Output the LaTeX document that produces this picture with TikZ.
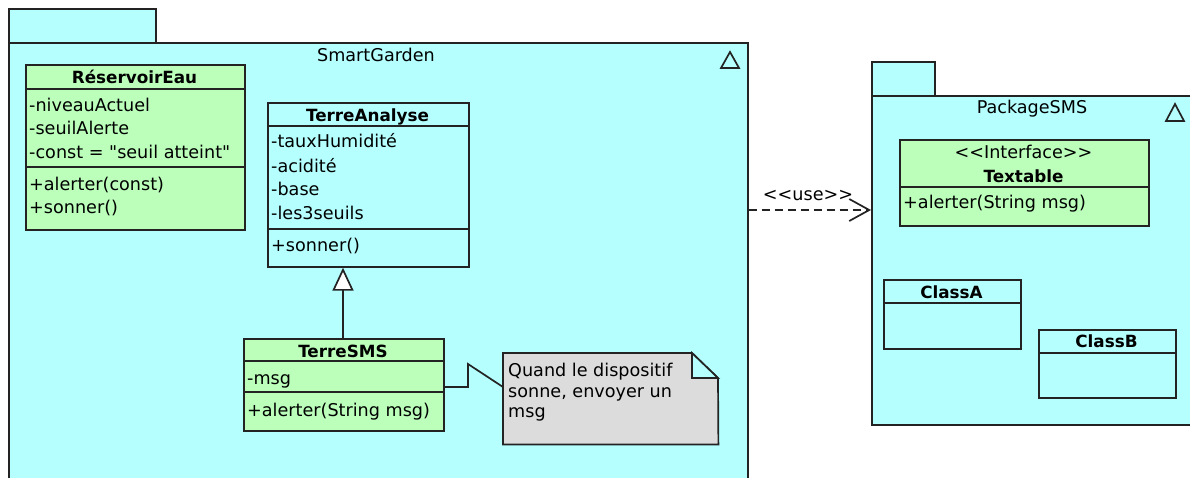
\documentclass[tikz,border=0pt]{standalone}
\usepackage{fontspec}
\setmainfont{DejaVu Sans}[Ligatures=TeXOff]
\usetikzlibrary{arrows.meta}
\definecolor{pkgcyan}{RGB}{181,255,255}
\definecolor{clsgreen}{RGB}{187,255,187}
\definecolor{notegray}{RGB}{220,220,220}
\definecolor{ink}{RGB}{35,35,35}
\begin{document}
\begin{tikzpicture}[x=1pt,y=-1pt,
  every node/.style={font=\fontsize{17.6}{20}\selectfont, text=black},
  shapebox/.style={draw=ink, line width=1.7pt, rectangle, inner sep=0pt, anchor=north west},
  pkg/.style={shapebox, fill=pkgcyan},
  cls/.style={shapebox, fill=clsgreen},
  plaincls/.style={shapebox, fill=pkgcyan},
  sep/.style={draw=ink, line width=1.7pt},
  txt/.style={anchor=base west, inner sep=0pt},
  ctxt/.style={anchor=base, inner sep=0pt},
  hdr/.style={anchor=base, inner sep=0pt, font=\fontsize{16.8}{20}\selectfont\bfseries},
  pkgicon/.style={draw=ink, line width=1.7pt},
  dep/.style={draw=ink, line width=1.7pt, dash pattern=on 8pt off 5pt, -{Straight Barb[length=20pt, width=22pt, line width=1.7pt]}},
  inh/.style={draw=ink, line width=1.7pt, -{Triangle[open, fill=white, length=23pt, width=21pt, line width=1.7pt]}},
  notelink/.style={draw=ink, line width=1.7pt}
]
\useasboundingbox (0,0) rectangle (1190,477);

% ---------- SmartGarden package ----------
\node[pkg, minimum width=147pt, minimum height=34pt] (sgtab) at (8,8) {};
\node[pkg, minimum width=739pt, minimum height=450pt] (sg) at (8,42) {};
\node[ctxt] (sglabel) at (376,61) {SmartGarden};
\draw[pkgicon] (730,52) -- (739,68) -- (721,68) -- cycle;

% ---------- PackageSMS package ----------
\node[pkg, minimum width=63pt, minimum height=34pt] (pstab) at (871,61) {};
\node[pkg, minimum width=340pt, minimum height=329pt] (ps) at (871,95) {};
\node[ctxt] (pslabel) at (1032,113) {PackageSMS};
\draw[pkgicon] (1175,104) -- (1184,121) -- (1166,121) -- cycle;

% ---------- RéservoirEau ----------
\node[cls, minimum width=219pt, minimum height=165pt] (res) at (25,64) {};
\draw[sep] (res.west |- 0,89) -- (res.east |- 0,89);
\draw[sep] (res.west |- 0,167) -- (res.east |- 0,167);
\node[hdr] (resh) at (134.5,83) {RéservoirEau};
\node[txt] (res1) at (29,111) {-niveauActuel};
\node[txt] (res2) at (29,134) {-seuilAlerte};
\node[txt] (res3) at (29,158) {-const = "seuil atteint"};
\node[txt] (res4) at (29,190) {+alerter(const)};
\node[txt] (res5) at (29,213) {+sonner()};

% ---------- TerreAnalyse ----------
\node[plaincls, minimum width=201pt, minimum height=164pt] (ta) at (267,102) {};
\draw[sep] (ta.west |- 0,126) -- (ta.east |- 0,126);
\draw[sep] (ta.west |- 0,229) -- (ta.east |- 0,229);
\node[hdr] (tah) at (367.5,121) {TerreAnalyse};
\node[txt] (ta1) at (271,147) {-tauxHumidité};
\node[txt] (ta2) at (271,172) {-acidité};
\node[txt] (ta3) at (271,195) {-base};
\node[txt] (ta4) at (271,219) {-les3seuils};
\node[txt] (ta5) at (271,251) {+sonner()};

% ---------- TerreSMS ----------
\node[cls, minimum width=200pt, minimum height=92pt] (tsms) at (243,338) {};
\draw[sep] (tsms.west |- 0,361) -- (tsms.east |- 0,361);
\draw[sep] (tsms.west |- 0,392) -- (tsms.east |- 0,392);
\node[hdr] (tsmsh) at (343,357) {TerreSMS};
\node[txt] (tsms1) at (247,384) {-msg};
\node[txt] (tsms2) at (247,416) {+alerter(String msg)};

% inheritance
\draw[inh] (tsms.north -| 343,0) -- (ta.south -| 343,0);

% ---------- Note ----------
\node[inner sep=0pt, anchor=north west, minimum width=215pt, minimum height=91pt] (note) at (503,353) {};
\draw[draw=ink, line width=1.7pt, fill=notegray]
  (note.north west) -- (692,353) -- (718,378) -- (note.south east) -- (note.south west) -- cycle;
\draw[draw=ink, line width=1.7pt, fill=pkgcyan] (692,353) -- (692,378) -- (718,378) -- cycle;
\node[txt] (n1) at (508,376) {Quand le dispositif};
\node[txt] (n2) at (508,397) {sonne, envoyer un};
\node[txt] (n3) at (508,417) {msg};
\draw[notelink] (tsms.east |- 0,387) -- (468,387) -- (468,364) -- (note.west |- 0,387);

% ---------- Textable ----------
\node[cls, minimum width=249pt, minimum height=86pt] (tx) at (899,139) {};
\draw[sep] (tx.west |- 0,187) -- (tx.east |- 0,187);
\node[ctxt] (txs) at (1023.5,158) {<<Interface>>};
\node[hdr] (txh) at (1023.5,182) {Textable};
\node[txt] (tx1) at (903,208) {+alerter(String msg)};

% ---------- ClassA / ClassB ----------
\node[plaincls, minimum width=137pt, minimum height=69pt] (ca) at (883,279) {};
\draw[sep] (ca.west |- 0,303) -- (ca.east |- 0,303);
\node[hdr] (cah) at (951.5,298) {ClassA};
\node[plaincls, minimum width=137pt, minimum height=68pt] (cb) at (1038,329) {};
\draw[sep] (cb.west |- 0,353) -- (cb.east |- 0,353);
\node[hdr] (cbh) at (1106.5,347) {ClassB};

% ---------- dependency ----------
\draw[dep] (sg.east |- 0,210) -- (ps.west |- 0,210);
\node[ctxt] (use) at (808,200) {<<use>>};
\end{tikzpicture}
\end{document}
